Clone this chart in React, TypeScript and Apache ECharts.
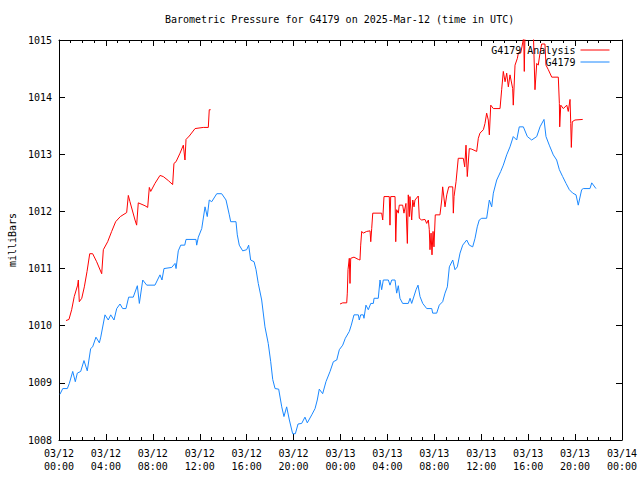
import React, { useEffect, useRef } from "react";
import * as echarts from "echarts";

const FONT = "DejaVu Sans Mono";

const chartTitle = "Barometric Pressure for G4179 on 2025-Mar-12 (time in UTC)";
const yAxisName = "milliBars";
const seriesNames = ["G4179 Analysis", "G4179"];

// x ticks: hours since 2025-03-12 00:00 UTC, every 4 h
const xTickLabels = [
  "03/12\n00:00", "03/12\n04:00", "03/12\n08:00", "03/12\n12:00",
  "03/12\n16:00", "03/12\n20:00", "03/13\n00:00", "03/13\n04:00",
  "03/13\n08:00", "03/13\n12:00", "03/13\n16:00", "03/13\n20:00",
  "03/14\n00:00",
];
const yTickLabels = ["1008", "1009", "1010", "1011", "1012", "1013", "1014", "1015"];

// G4179 observed (hours since 03/12 00:00 UTC, mbar)
const blueHours = [
  0.08, 0.32, 0.71, 0.88, 1.17, 1.39, 1.56, 1.85, 2.13, 2.41, 2.70, 2.87, 3.15, 3.44, 3.56,
  3.92, 4.20, 4.41, 4.69, 4.92, 5.20, 5.43, 5.71, 5.94, 6.33, 6.68, 6.85, 7.14, 7.48, 8.18,
  8.61, 8.78, 8.95, 9.61, 9.89, 9.98, 10.17, 10.38, 10.72, 10.83, 11.68, 11.74, 11.88, 12.17,
  12.45, 12.64, 12.81, 13.02, 13.45, 13.87, 14.24, 14.52, 14.64, 15.09, 15.20, 15.37, 15.66,
  16.00, 16.17, 16.34, 16.63, 16.80, 16.99, 17.28, 17.56, 17.84, 18.05, 18.22, 18.42, 18.73,
  18.99, 19.18, 19.41, 19.64, 19.92, 20.15, 20.38, 20.69, 20.97, 21.17, 21.55, 21.83, 22.02,
  22.19, 22.48, 22.76, 23.11, 23.39, 23.68, 23.90, 24.19, 24.41, 24.75, 24.92, 25.15, 25.52,
  25.60, 25.72, 25.94, 26.00, 26.17, 26.37, 26.58, 26.80, 26.86, 27.22, 27.37, 27.51, 27.65,
  28.08, 28.22, 28.37, 28.65, 28.79, 28.93, 29.07, 29.30, 29.78, 29.93, 30.07, 30.44, 30.61,
  30.78, 31.01, 31.35, 31.78, 31.86, 32.20, 32.42, 32.71, 32.91, 33.11, 33.28, 33.57, 33.76,
  33.96, 34.19, 34.42, 34.76, 34.98, 35.27, 35.47, 35.66, 35.83, 36.04, 36.46, 36.69, 36.89,
  37.03, 37.32, 37.66, 37.88, 38.17, 38.45, 38.73, 39.02, 39.24, 39.59, 39.93, 40.30, 40.73,
  41.01, 41.35, 41.52, 41.80, 42.14, 42.43, 42.66, 42.94, 43.23, 43.51, 43.80, 44.08, 44.27,
  44.56, 44.70, 45.27, 45.42, 45.78,
];
const bluePressure = [
  1008.80, 1008.90, 1008.90, 1008.99, 1009.20, 1009.02, 1009.17, 1009.20, 1009.39, 1009.21,
  1009.60, 1009.63, 1009.80, 1009.70, 1009.80, 1010.19, 1010.10, 1010.19, 1010.10, 1010.30,
  1010.38, 1010.30, 1010.30, 1010.50, 1010.50, 1010.70, 1010.39, 1010.80, 1010.71, 1010.71,
  1010.89, 1010.80, 1011.00, 1011.02, 1011.09, 1011.00, 1011.31, 1011.41, 1011.41, 1011.51,
  1011.51, 1011.41, 1011.55, 1011.70, 1012.08, 1011.91, 1012.20, 1012.17, 1012.31, 1012.31,
  1012.20, 1011.94, 1011.82, 1011.82, 1011.59, 1011.41, 1011.31, 1011.33, 1011.41, 1011.15,
  1011.12, 1010.98, 1010.74, 1010.45, 1009.98, 1009.69, 1009.37, 1009.06, 1008.90, 1008.89,
  1008.58, 1008.41, 1008.58, 1008.35, 1008.11, 1008.11, 1008.28, 1008.29, 1008.40, 1008.30,
  1008.44, 1008.55, 1008.70, 1008.89, 1008.81, 1009.02, 1009.20, 1009.37, 1009.40, 1009.58,
  1009.66, 1009.78, 1009.90, 1010.01, 1010.19, 1010.19, 1010.10, 1010.19, 1010.19, 1010.13,
  1010.36, 1010.28, 1010.39, 1010.39, 1010.48, 1010.48, 1010.80, 1010.63, 1010.80, 1010.80,
  1010.71, 1010.80, 1010.80, 1010.57, 1010.70, 1010.48, 1010.39, 1010.39, 1010.48, 1010.39,
  1010.63, 1010.71, 1010.51, 1010.39, 1010.30, 1010.30, 1010.22, 1010.22, 1010.36, 1010.42,
  1010.57, 1010.68, 1011.03, 1011.15, 1010.98, 1011.03, 1011.27, 1011.41, 1011.50, 1011.41,
  1011.38, 1011.53, 1011.73, 1011.85, 1011.88, 1011.88, 1012.20, 1012.08, 1012.32, 1012.55,
  1012.70, 1012.81, 1012.99, 1013.13, 1013.31, 1013.25, 1013.48, 1013.48, 1013.31, 1013.25,
  1013.31, 1013.48, 1013.61, 1013.31, 1013.16, 1012.99, 1012.90, 1012.73, 1012.61, 1012.49,
  1012.38, 1012.32, 1012.29, 1012.11, 1012.38, 1012.40, 1012.40, 1012.50, 1012.40,
];

// G4179 Analysis (null = no data)
const redHours = [
  0.60, 0.85, 1.08, 1.30, 1.59, 1.65, 1.73, 1.94, 2.16, 2.39, 2.62, 2.87, 3.21, 3.64, 3.78,
  4.15, 4.49, 4.83, 5.23, 5.77, 5.91, 6.05, 6.48, 6.62, 6.76, 7.33, 7.56, 7.70, 7.82, 8.18,
  8.61, 8.89, 9.32, 9.69, 9.80, 9.98, 10.32, 10.60, 10.74, 10.83, 11.11, 11.60, 12.30, 12.73,
  12.81, 12.93,
  18.00,
  23.96, 24.19, 24.53, 24.58, 24.64, 24.75, 24.81, 24.87, 25.15, 25.52, 25.66, 25.72, 25.81,
  25.94, 26.23, 26.52, 26.58, 26.66, 26.75, 27.51, 27.60, 27.71, 28.16, 28.22, 28.28, 28.65,
  28.71, 28.79, 28.93, 29.01, 29.30, 29.41, 29.58, 29.70, 29.78, 29.87, 29.92, 30.07, 30.16,
  30.27, 30.35, 30.63, 30.72, 30.92, 31.20, 31.35, 31.49, 31.57, 31.63, 31.72, 31.80, 31.89,
  31.97, 32.08, 32.48, 32.63, 32.71, 32.91, 33.06, 33.23, 33.57, 33.62, 33.68, 33.85, 34.04,
  34.47, 34.59, 34.70, 34.81, 34.98, 35.19, 35.61, 35.75, 35.89, 36.18, 36.32, 36.46, 36.60,
  36.69, 36.81, 37.03, 37.60, 37.74, 37.88, 38.03, 38.17, 38.31, 38.45, 38.68, 38.73, 38.88,
  39.08, 39.16, 39.36, 39.47, 39.62, 39.67, 39.73, 40.44, 40.58, 40.73, 40.86, 41.01, 41.15,
  41.43, 41.52, 41.72, 42.01, 42.57, 42.66, 42.69, 42.78, 43.00, 43.29, 43.42, 43.57, 43.63,
  43.68, 43.76, 43.99, 44.65,
];
const redPressure = [
  1010.09, 1010.11, 1010.28, 1010.51, 1010.71, 1010.80, 1010.42, 1010.48, 1010.68, 1010.95,
  1011.26, 1011.26, 1011.12, 1010.91, 1011.33, 1011.47, 1011.65, 1011.82, 1011.91, 1011.98,
  1012.28, 1012.17, 1011.85, 1011.76, 1012.15, 1012.10, 1012.07, 1012.42, 1012.35, 1012.49,
  1012.63, 1012.61, 1012.54, 1012.47, 1012.84, 1012.87, 1013.02, 1013.16, 1012.90, 1013.26,
  1013.32, 1013.45, 1013.47, 1013.47, 1013.78, 1013.78,
  null,
  1010.38, 1010.40, 1010.40, 1010.57, 1010.98, 1011.18, 1010.74, 1011.18, 1011.20, 1011.16,
  1011.15, 1011.41, 1011.65, 1011.62, 1011.65, 1011.66, 1011.47, 1011.70, 1011.97, 1011.97,
  1011.85, 1012.26, 1012.26, 1011.76, 1012.26, 1012.26, 1011.47, 1012.03, 1011.97, 1012.11,
  1012.11, 1011.97, 1012.14, 1011.44, 1012.29, 1011.91, 1012.26, 1011.85, 1012.20, 1012.08,
  1012.20, 1012.27, 1011.88, 1011.85, 1011.86, 1011.79, 1011.85, 1011.68, 1011.33, 1011.62,
  1011.24, 1011.65, 1011.38, 1011.94, 1011.94, 1012.20, 1012.43, 1012.08, 1012.29, 1012.43,
  1012.43, 1011.97, 1012.26, 1012.52, 1012.93, 1012.93, 1012.78, 1013.16, 1012.61, 1013.10,
  1013.09, 1013.05, 1013.28, 1013.37, 1013.43, 1013.54, 1013.72, 1013.60, 1013.34, 1013.86,
  1013.80, 1013.80, 1014.13, 1014.45, 1014.27, 1014.42, 1014.18, 1014.39, 1014.15, 1013.86,
  1014.56, 1014.68, 1014.77, 1014.77, 1014.88, 1015.05, 1014.45, 1015.10, 1015.15, 1014.13,
  1014.59, 1014.56, 1014.77, 1014.93, 1014.93, 1014.56, 1014.48, 1014.35, 1014.35, 1013.89,
  1013.48, 1013.86, 1013.80, 1013.86, 1013.75, 1013.96, 1013.54, 1013.12, 1013.57, 1013.60,
  1013.61,
];

const RED = "#ff0000";
const BLUE = "#1a88ff";

export default function App() {
  const ref = useRef<HTMLDivElement>(null);

  useEffect(() => {
    if (!ref.current) return;
    const chart = echarts.init(ref.current, null, { renderer: "svg" });

    const blueData = blueHours.map((h, i) => [h, bluePressure[i]]);
    const redData = redHours.map((h, i) => [h, redPressure[i]]);

    const txt = { fontFamily: FONT, fontSize: 10, color: "#000" };
    const tickStyle = { show: true, inside: true, length: 6, lineStyle: { color: "#000", width: 1 } };
    const minorStyle = { show: true, splitNumber: 4, length: 3, lineStyle: { color: "#000", width: 1 } };
    const axisLine = { show: true, onZero: false, lineStyle: { color: "#000", width: 1 } };

    const xBase = {
      type: "value",
      min: 0,
      max: 48,
      interval: 4,
      axisLine,
      axisTick: tickStyle,
      minorTick: minorStyle,
      splitLine: { show: false },
    };
    const yBase = {
      type: "value",
      min: 1008,
      max: 1015,
      interval: 1,
      axisLine,
      axisTick: tickStyle,
      splitLine: { show: false },
    };

    const legendBase = {
      orient: "vertical",
      align: "right",
      right: 30,
      itemWidth: 29,
      itemHeight: 10,
      itemGap: 0,
      padding: 0,
      selectedMode: false,
      itemStyle: { opacity: 0, borderWidth: 0 },
      lineStyle: { width: 1 },
      textStyle: { ...txt, padding: [0, 0, 0, 0] },
    };

    chart.setOption({
      animation: false,
      backgroundColor: "#fff",
      textStyle: { fontFamily: FONT },
      title: {
        text: chartTitle,
        left: 165,
        top: 14,
        padding: 0,
        textStyle: { ...txt, fontWeight: "normal" },
      },
      grid: {
        left: 59,
        right: 18,
        top: 40,
        bottom: 40,
        containLabel: false,
        outerBoundsMode: "none",
      },
      legend: [
        { ...legendBase, data: [seriesNames[0]], top: 45 },
        { ...legendBase, data: [seriesNames[1]], top: 57 },
      ],
      xAxis: [
        {
          ...xBase,
          position: "bottom",
          axisLabel: {
            ...txt,
            margin: 7,
            lineHeight: 13,
            formatter: (v: number) => xTickLabels[Math.round(v / 4)] ?? "",
          },
        },
        { ...xBase, position: "top", axisLabel: { show: false } },
      ],
      yAxis: [
        {
          ...yBase,
          position: "left",
          name: yAxisName,
          nameLocation: "middle",
          nameRotate: 90,
          nameGap: 42,
          nameTextStyle: txt,
          axisLabel: {
            ...txt,
            margin: 7,
            formatter: (v: number) => yTickLabels[Math.round(v - 1008)] ?? "",
          },
        },
        { ...yBase, position: "right", axisLabel: { show: false } },
      ],
      series: [
        {
          name: seriesNames[0],
          type: "line",
          data: redData,
          symbol: "none",
          connectNulls: false,
          clip: true,
          lineStyle: { color: RED, width: 1 },
          itemStyle: { color: RED },
        },
        {
          name: seriesNames[1],
          type: "line",
          data: blueData,
          symbol: "none",
          clip: true,
          lineStyle: { color: BLUE, width: 1 },
          itemStyle: { color: BLUE },
        },
      ],
    });

    return () => chart.dispose();
  }, []);

  return (
    <div
      ref={ref}
      style={{ position: "fixed", left: 0, top: 0, width: 640, height: 480 }}
    />
  );
}
